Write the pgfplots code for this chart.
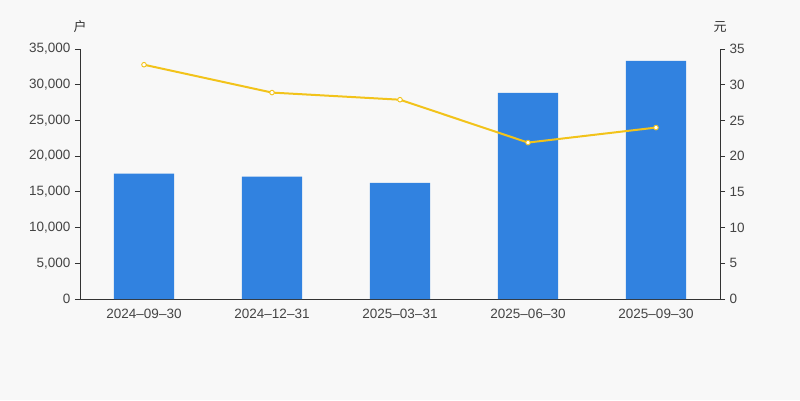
\documentclass[border=0pt]{standalone}
\usepackage{pgfplots}
\pgfplotsset{compat=1.18}
\usepackage{fontspec}
\setmainfont{Liberation Sans}
\newfontfamily\cjk{Noto Sans CJK SC}
\definecolor{bg}{HTML}{F8F8F8}
\definecolor{barblue}{HTML}{3182E0}
\definecolor{lineyel}{HTML}{F2C31A}
\definecolor{axgray}{HTML}{333333}
\definecolor{txtgray}{HTML}{444444}
\begin{document}
\begin{tikzpicture}[x=1pt,y=1pt]
\fill[bg] (0,0) rectangle (800,400);
\pgfplotsset{
  every axis/.style={
    scale only axis, width=640pt, height=250pt,
    at={(80pt,101pt)}, anchor=south west,
    xmin=-0.5, xmax=4.5,
    axis line style={axgray, line width=0.8pt},
    tick style={axgray, line width=0.8pt},
    tick align=outside,
    major tick length=5pt,
    minor tick length=5pt,
    tick label style={font=\fontsize{13.5}{16}\selectfont, text=txtgray},
    /pgf/number format/assume math mode=true,
    /pgf/number format/1000 sep={,},
    scaled y ticks=false,
    ymin=0,
  }
}
\begin{axis}[
  axis y line*=left, axis x line*=bottom,
  ymax=35000, ytick={0,5000,...,35000},
  xtick={0,1,2,3,4},
  xticklabels={2024--09--30,2024--12--31,2025--03--31,2025--06--30,2025--09--30},
  x tick style={draw=none},
  minor xtick={-0.5,0.5,1.5,2.5,3.5,4.5},
  minor x tick style={axgray, line width=0.8pt},
  xticklabel style={yshift=-2pt},
  yticklabel style={xshift=-1pt},
]
\addplot[ybar, bar width=0.47, fill=barblue, draw=none] coordinates {
  (0,17550) (1,17150) (2,16250) (3,28850) (4,33350)
};
\end{axis}
\begin{axis}[
  axis y line*=right, axis x line=none,
  ymax=35, ytick={0,5,...,35},
  yticklabel style={xshift=1pt},
]
\addplot[lineyel, line width=2pt, mark=*, mark size=2.3pt,
  mark options={fill=white, draw=lineyel, line width=0.9pt}] coordinates {
  (0,32.8) (1,28.9) (2,27.9) (3,21.9) (4,24.0)
};
\end{axis}
\node[font=\cjk\fontsize{13}{15}\selectfont, text=axgray] at (80,373) {户};
\node[font=\cjk\fontsize{13}{15}\selectfont, text=axgray] at (720,373) {元};
\end{tikzpicture}
\end{document}
